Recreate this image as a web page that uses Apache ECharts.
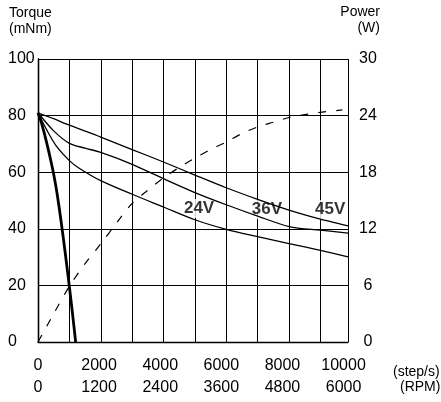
<!DOCTYPE html>
<html><head><meta charset="utf-8">
<script src="https://cdn.jsdelivr.net/npm/echarts@6/dist/echarts.min.js"></script>
<style>html,body{margin:0;padding:0;background:#fff}#c{width:441px;height:402px}</style>
</head><body><div id="c"></div>
<script>
// Speed ticks (step/s) and matching RPM labels
const stepTicks = [0, 2000, 4000, 6000, 8000, 10000];
const rpmTicks = [0, 1200, 2400, 3600, 4800, 6000];
const torqueTicks = [0, 20, 40, 60, 80, 100];
const powerTicks = [0, 6, 12, 18, 24, 30];

// Torque curves (x: step/s, y: mNm)
const speed24 = [0, 300, 600, 1000, 1300, 2000, 3000, 4000, 5000, 6000, 7000, 8000, 9000, 9880];
const torque24 = [81, 74.5, 69, 64.1, 61.5, 57, 52.2, 47.7, 43.2, 39.8, 37.2, 34.8, 32.4, 30.1];

const speed36 = [0, 500, 1000, 1500, 2000, 3000, 4000, 5000, 6000, 7000, 8000, 9000, 9880];
const torque36 = [81, 74.6, 70.2, 68.5, 67, 62.8, 57.7, 52.8, 48.5, 44.5, 40.8, 39.5, 38.5];

const speed45 = [0, 500, 1000, 2000, 3000, 4000, 5000, 6000, 7000, 8000, 9000, 9880];
const torque45 = [81, 78.9, 76.6, 72.4, 68.0, 63.6, 59.0, 54.5, 50.4, 46.6, 43.4, 41];

// Thick (pull-in) curve
const speedThick = [0, 100, 200, 300, 400, 500, 600, 700, 800, 900, 1000, 1100, 1200];
const torqueThick = [81, 77.8, 73.8, 69.3, 64.5, 59.3, 53, 45.5, 37.3, 28.6, 19.5, 10, 0];

// Power curve (W), dashed
const speedPower = [0, 500, 1000, 1500, 2000, 2500, 3000, 3500, 4000, 4500, 5000, 5500, 6000, 6500, 7000, 7500, 8000, 8500, 9000, 9700];
const powerW = [0, 3, 5.9, 8.3, 10.4, 12.6, 14.7, 16.1, 17.4, 18.5, 19.5, 20.4, 21.2, 22.1, 22.8, 23.3, 23.8, 24.1, 24.35, 24.6];

// Voltage labels
const voltLabels = ['24V', '36V', '45V'];
const voltLabelSpeed = [5134, 7297, 9310];
const voltLabelTorque = [47.2, 46.8, 46.8];

const zip = (a, b) => a.map((v, i) => [v, b[i]]);
const FONT = "'Liberation Sans', Arial, Helvetica, sans-serif";

const chart = echarts.init(document.getElementById('c'), null, {renderer: 'canvas'});
chart.setOption({
  animation: false,
  backgroundColor: '#fff',
  textStyle: {fontFamily: FONT},
  grid: {left: 38, right: 93, top: 59, bottom: 60},
  xAxis: [{
    type: 'value', min: 0, max: 9880, interval: 1000,
    axisLine: {show: true, lineStyle: {color: '#000', width: 1.3}},
    axisTick: {show: false},
    axisLabel: {show: false},
    splitLine: {show: true, lineStyle: {color: '#000', width: 1}}
  }, {
    type: 'value', min: 0, max: 10145, interval: 2000, position: 'bottom',
    axisLine: {show: false}, axisTick: {show: false}, splitLine: {show: false},
    axisLabel: {
      show: true, margin: 13, lineHeight: 22, fontSize: 16, color: '#000', fontFamily: FONT,
      formatter: v => {
        const i = stepTicks.indexOf(v);
        return i < 0 ? '' : stepTicks[i] + '\n' + rpmTicks[i];
      }
    }
  }],
  yAxis: [{
    type: 'value', min: 0, max: 100, interval: 20,
    axisLine: {show: true, lineStyle: {color: '#000', width: 1.3}},
    axisTick: {show: false},
    axisLabel: {align: 'left', margin: 30, fontSize: 16, color: '#000', fontFamily: FONT,
      formatter: v => torqueTicks.includes(v) ? String(v) : ''},
    splitLine: {show: true, lineStyle: {color: '#000', width: 1}}
  }, {
    type: 'value', min: 0, max: 30, interval: 6, position: 'right',
    axisLine: {show: true, lineStyle: {color: '#000', width: 1.3}},
    axisTick: {show: false},
    axisLabel: {align: 'center', margin: 20, fontSize: 16, color: '#000', fontFamily: FONT,
      formatter: v => powerTicks.includes(v) ? String(v) : ''},
    splitLine: {show: false}
  }],
  graphic: [
    {type: 'text', left: 9, top: 5, style: {text: 'Torque\n(mNm)', font: '14px ' + FONT, fill: '#000', lineHeight: 16}},
    {type: 'text', right: 61, top: 5, style: {text: 'Power', font: '14px ' + FONT, fill: '#000'}},
    {type: 'text', right: 61, top: 21, style: {text: '(W)', font: '14px ' + FONT, fill: '#000'}},
    {type: 'text', left: 393, top: 365, style: {text: '(step/s)', font: '14px ' + FONT, fill: '#000'}},
    {type: 'text', left: 400, top: 380, style: {text: '(RPM)', font: '14px ' + FONT, fill: '#000'}}
  ],
  series: [
    {
      type: 'scatter', z: 1, symbolSize: 0, itemStyle: {color: 'rgba(0,0,0,0)'},
      data: voltLabels.map((t, i) => ({value: [voltLabelSpeed[i], voltLabelTorque[i]], name: t})),
      label: {show: true, position: 'inside', formatter: p => p.name, color: '#000',
        fontWeight: 'bold', fontSize: 17, fontFamily: FONT, backgroundColor: '#fff', padding: [1, 1]}
    },
    {type: 'line', data: zip(speed24, torque24), smooth: 0.3, symbol: 'none', lineStyle: {color: '#000', width: 1.3}},
    {type: 'line', data: zip(speed36, torque36), smooth: 0.3, symbol: 'none', lineStyle: {color: '#000', width: 1.3}},
    {type: 'line', data: zip(speed45, torque45), smooth: 0.3, symbol: 'none', lineStyle: {color: '#000', width: 1.3}},
    {type: 'line', data: zip(speedThick, torqueThick), smooth: 0.3, symbol: 'none', lineStyle: {color: '#000', width: 2.8}},
    {type: 'line', yAxisIndex: 1, data: zip(speedPower, powerW), smooth: 0.3, symbol: 'none',
      lineStyle: {color: '#000', width: 1.2, type: [8, 10]}}
  ]
});
</script>
</body></html>
